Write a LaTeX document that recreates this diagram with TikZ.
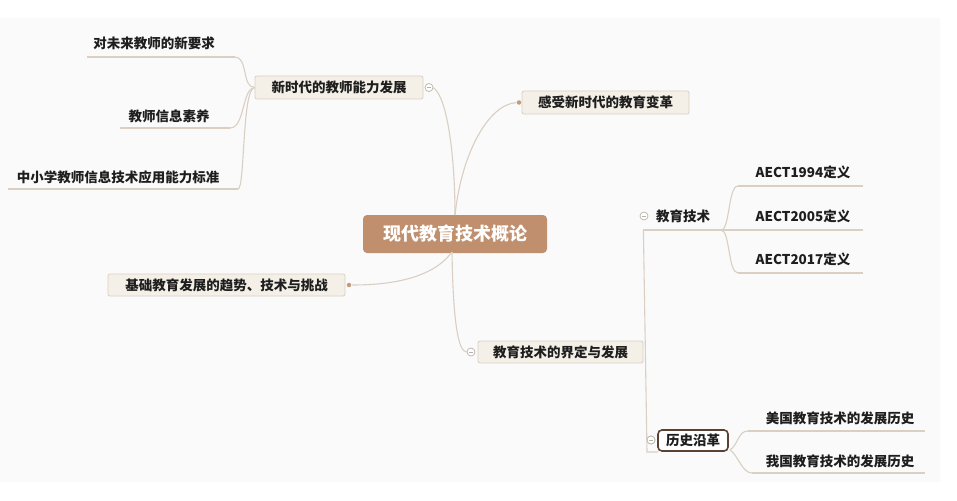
\documentclass[tikz,border=0pt]{standalone}
\usepackage{fontspec}
\setmainfont{Noto Sans CJK SC}
\begin{document}
\begin{tikzpicture}[x=1pt,y=-1pt,
  line width=1.1pt,
  conn/.style={draw=linec,line width=1.1pt},
  topic/.style={draw=boxb,fill=boxf,rounded corners=2pt,line width=0.8pt,
    font=\fontsize{13.5}{15}\selectfont\bfseries,text=txt,inner sep=0pt,minimum height=23pt},
  leaf/.style={font=\fontsize{13.5}{15}\selectfont\bfseries,text=txt,inner sep=0pt},
  fold/.style={circle,draw=foldc,fill=white,line width=0.7pt,minimum size=8pt,inner sep=0pt,
    path picture={\draw[foldc,line width=0.7pt] ([xshift=-2pt]path picture bounding box.center)--([xshift=2pt]path picture bounding box.center);}},
  enddot/.style={circle,fill=dotc,minimum size=4.5pt,inner sep=0pt}]
\definecolor{linec}{HTML}{D9CFC3}
\definecolor{boxb}{HTML}{D8D0C3}
\definecolor{boxf}{HTML}{F4F0E8}
\definecolor{txt}{HTML}{1E1E1E}
\definecolor{mainf}{HTML}{C0906E}
\definecolor{foldc}{HTML}{B8B2AA}
\definecolor{dotc}{HTML}{C49A7C}
\definecolor{bgc}{HTML}{FAFAFA}
\definecolor{histb}{HTML}{5A4232}
\useasboundingbox (0,0) rectangle (957,500);
\fill[white] (0,0) rectangle (957,500);
\fill[bgc] (0,18) rectangle (940,482);

% central topic
\node[fill=mainf,rounded corners=4pt,minimum width=184pt,minimum height=38pt,inner sep=0pt,
  text=white,font=\fontsize{18}{20}\selectfont\bfseries] (root) at (455,234) {现代教育技术概论};

% main topics
\node[topic,minimum width=168pt] (t1) at (339,87.5) {新时代的教师能力发展};
\node[topic,minimum width=167pt] (t2) at (605.5,102.5) {感受新时代的教育变革};
\node[topic,minimum width=237pt,minimum height=22pt] (t3) at (226.5,285) {基础教育发展的趋势、技术与挑战};
\node[topic,minimum width=165pt,minimum height=22pt] (t4) at (560.5,352) {教育技术的界定与发展};

% fold markers and end dots
\node[fold] (f1) at (429,87.5) {};
\node[fold] (f4) at (471,352) {};
\node[fold] (f5) at (644,216) {};
\node[fold] (f6) at (651,440) {};
\node[enddot] (d2) at (519,102.5) {};
\node[enddot] (d3) at (349,285) {};

% subtopics of t1
\node[leaf] (a1) at (154,43) {对未来教师的新要求};
\node[leaf] (a2) at (169,116) {教师信息素养};
\node[leaf] (a3) at (118,177) {中小学教师信息技术应用能力标准};
\coordinate (a1l) at (87,57); \coordinate (a1r) at (235,57);
\coordinate (a2l) at (120,128); \coordinate (a2r) at (230,128);
\coordinate (a3l) at (8,189); \coordinate (a3r) at (238,189);
\draw[conn] (a1l) -- (a1r);
\draw[conn] (a2l) -- (a2r);
\draw[conn] (a3l) -- (a3r);
\draw[conn] (t1.west) .. controls (242,88) and (248,57) .. (a1r);
\draw[conn] (t1.west) .. controls (242,88) and (245,128) .. (a2r);
\draw[conn] (t1.west) .. controls (242,88) and (245,189) .. (a3r);

% root connectors
\coordinate (rt) at (455,215);
\coordinate (rb) at (452,252);
\draw[conn] (f1.east) .. controls (448,98) and (455,160) .. (rt);
\draw[conn] (rt) .. controls (462,150) and (490,104) .. (d2);
\draw[conn] (rb) .. controls (430,282) and (380,285) .. (d3);
\draw[conn] (rb) .. controls (453,320) and (458,352) .. (f4.west);

% 教育技术 branch
\node[leaf] (b0) at (683,216) {教育技术};
\node[leaf] (b1) at (803,172) {AECT1994定义};
\node[leaf] (b2) at (803,216) {AECT2005定义};
\node[leaf] (b3) at (803,259) {AECT2017定义};
\coordinate (bv) at (643,230);
\coordinate (bj) at (721,230);
\coordinate (b1l) at (738,186); \coordinate (b1r) at (863,186);
\coordinate (b2r) at (863,230);
\coordinate (b3l) at (738,273); \coordinate (b3r) at (863,273);
\coordinate (hv) at (647,452);
\coordinate (hh) at (658,452);
\draw[conn] (bv) -- (b2r);
\draw[conn] (b1l) -- (b1r);
\draw[conn] (b3l) -- (b3r);
\draw[conn] (bj) .. controls (730,230) and (728,186) .. (b1l);
\draw[conn] (bj) .. controls (730,230) and (728,273) .. (b3l);
\draw[conn] (bv) -- (t4.east |- bv) -- (hv) -- (hh);

% 历史沿革 branch
\node[draw=histb,fill=white,line width=1.6pt,rounded corners=4pt,minimum width=70pt,minimum height=21pt,
  inner sep=0pt,font=\fontsize{13.5}{15}\selectfont\bfseries,text=txt] (h0) at (693,440.5) {历史沿革};
\node[leaf] (h1) at (840,418) {美国教育技术的发展历史};
\node[leaf] (h2) at (840,461) {我国教育技术的发展历史};
\coordinate (hj) at (730,450);
\coordinate (h1l) at (748,431); \coordinate (h1r) at (925,431);
\coordinate (h2l) at (752,473); \coordinate (h2r) at (925,473);
\draw[conn] (h1l) -- (h1r);
\draw[conn] (h2l) -- (h2r);
\draw[conn] (hj) .. controls (738,445) and (738,431) .. (h1l);
\draw[conn] (hj) .. controls (738,455) and (742,473) .. (h2l);
\node[fold] at (651,440) {};
\end{tikzpicture}
\end{document}
